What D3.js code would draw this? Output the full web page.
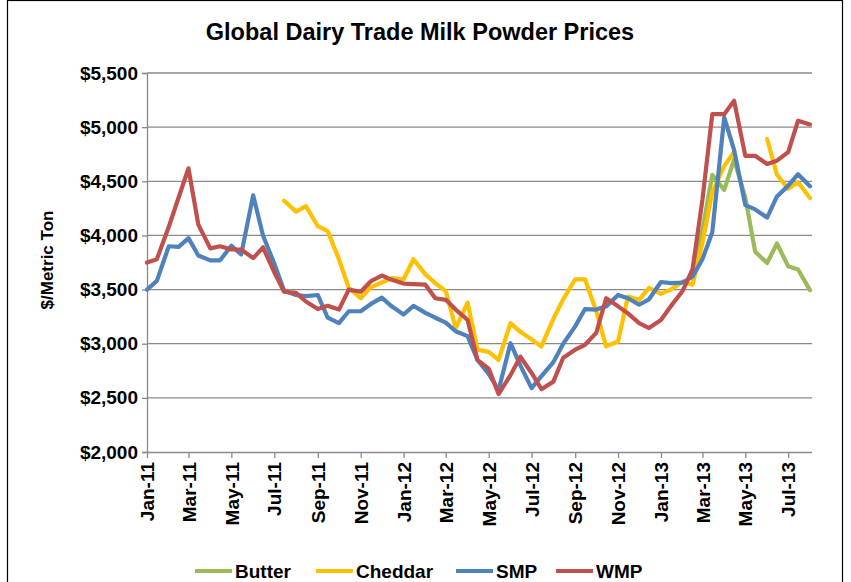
<!DOCTYPE html>
<html><head><meta charset="utf-8">
<script src="https://cdn.jsdelivr.net/npm/d3@7"></script>
<style>
body{margin:0;background:#fff}
svg{display:block}
text{font-family:"Liberation Sans",Arial,sans-serif;font-weight:bold;fill:#000}
</style>
</head><body>
<svg id="c" width="851" height="582"></svg>
<script>
// ---- data ----
const periods = [
"2011-01-01","2011-01-15","2011-02-01","2011-02-15","2011-03-01","2011-03-15","2011-04-01","2011-04-15",
"2011-05-01","2011-05-15","2011-06-01","2011-06-15","2011-07-01","2011-07-15","2011-08-01","2011-08-15",
"2011-09-01","2011-09-15","2011-10-01","2011-10-15","2011-11-01","2011-11-15","2011-12-01","2011-12-15",
"2012-01-01","2012-01-15","2012-02-01","2012-02-15","2012-03-01","2012-03-15","2012-04-01","2012-04-15",
"2012-05-01","2012-05-15","2012-06-01","2012-06-15","2012-07-01","2012-07-15","2012-08-01","2012-08-15",
"2012-09-01","2012-09-15","2012-10-01","2012-10-15","2012-11-01","2012-11-15","2012-12-01","2012-12-15",
"2013-01-01","2013-01-15","2013-02-01","2013-02-15","2013-03-01","2013-03-15","2013-04-01","2013-04-15",
"2013-05-01","2013-05-15","2013-06-01","2013-06-15","2013-07-01","2013-07-15","2013-08-01"];

const butter = [
null,null,null,null,null,null,null,null,null,null,null,null,null,null,null,null,
null,null,null,null,null,null,null,null,null,null,null,null,null,null,null,null,
null,null,null,null,null,null,null,null,null,null,null,null,null,null,null,null,
null,null,null,3600,4050,4560,4420,4700,4350,3850,3745,3925,3715,3685,3495];

const cheddar = [
null,null,null,null,null,null,null,null,null,null,null,null,null,4320,4220,4270,
4085,4040,3780,3515,3420,3520,3565,3605,3595,3780,3640,3560,3485,3145,3380,2945,
2925,2850,3190,3110,3040,2975,3230,3410,3595,3595,3300,2975,3020,3435,3405,3515,
3460,3500,3575,3545,3930,4400,4640,4770,null,null,4890,4560,4430,4490,4345];

const smp = [
3500,3580,3900,3895,3975,3815,3770,3770,3905,3825,4370,4000,3740,3490,3450,3440,
3450,3240,3190,3300,3300,3365,3425,3345,3270,3350,3285,3240,3195,3115,3070,2850,
2720,2570,3005,2800,2590,2700,2830,3000,3160,3320,3315,3345,3450,3420,3360,3410,
3570,3560,3565,3620,3780,4030,5090,4790,4280,4240,4165,4360,4460,4565,4455];

const wmp = [
3750,3780,4080,4350,4620,4100,3880,3900,3870,3870,3790,3890,3660,3480,3470,3390,
3320,3350,3315,3500,3480,3575,3630,3590,3555,3550,3545,3420,3405,3315,3220,2850,
2770,2535,2710,2880,2730,2580,2650,2870,2945,2990,3100,3420,3345,3280,3190,3145,
3220,3345,3490,3690,4330,5120,5120,5245,4735,4735,4660,4690,4770,5060,5025];

const seriesNames = ["Butter","Cheddar","SMP","WMP"];
const seriesColors = ["#9BBB59","#FFC000","#4F81BD","#C0504D"];
const tickDates = ["2011-01-01","2011-03-01","2011-05-01","2011-07-01","2011-09-01","2011-11-01",
"2012-01-01","2012-03-01","2012-05-01","2012-07-01","2012-09-01","2012-11-01",
"2013-01-01","2013-03-01","2013-05-01","2013-07-01"];
const tickLabels = ["Jan-11","Mar-11","May-11","Jul-11","Sep-11","Nov-11","Jan-12","Mar-12",
"May-12","Jul-12","Sep-12","Nov-12","Jan-13","Mar-13","May-13","Jul-13"];
const yTicks = [2000,2500,3000,3500,4000,4500,5000,5500];
const title = "Global Dairy Trade Milk Powder Prices";
const yTitle = "$/Metric Ton";

// ---- chart ----
const parse = d3.utcParse("%Y-%m-%d");
const dates = periods.map(parse);
const svg = d3.select("#c");
const L = 147, R = 812, T = 73, B = 452;

svg.append("rect").attr("x",7.5).attr("y",0.5).attr("width",835).attr("height",600)
  .attr("fill","#fff").attr("stroke","#000").attr("stroke-width",1.2);

const x = d3.scaleUtc().domain([parse("2011-01-01"), parse("2013-08-01")]).range([L, 810]);
const y = d3.scaleLinear().domain([2000, 5500]).range([B, T]);

// gridlines
svg.append("g").selectAll("line").data(yTicks.filter(d=>d>2000)).join("line")
  .attr("x1",L).attr("x2",R).attr("y1",d=>y(d)).attr("y2",d=>y(d))
  .attr("stroke","#8a8a8a").attr("stroke-width",1.3);

// y axis
const ya = svg.append("g").attr("transform",`translate(${L},0)`)
  .call(d3.axisLeft(y).tickValues(yTicks).tickFormat(d=>"$"+d3.format(",")(d)).tickSize(5).tickPadding(4));
ya.select(".domain").attr("stroke","#8a8a8a").attr("stroke-width",1.3);
ya.selectAll(".tick line").attr("stroke","#8a8a8a").attr("stroke-width",1.3);
ya.selectAll("text").style("font-size","19px").style("font-family","'Liberation Sans',Arial,sans-serif").style("font-weight","bold");

// x axis
const xa = svg.append("g").attr("transform",`translate(0,${B})`)
  .call(d3.axisBottom(x).tickValues(tickDates.map(parse)).tickFormat((d,i)=>tickLabels[i]).tickSize(6).tickSizeOuter(0));
xa.select(".domain").attr("stroke","#8a8a8a").attr("stroke-width",1.3).attr("d",`M${L},0.5H${R}`);
xa.selectAll(".tick line").attr("stroke","#8a8a8a").attr("stroke-width",1.3);
xa.selectAll("text")
  .attr("transform","rotate(-90)").attr("x",-10).attr("y",0).attr("dy","0.35em")
  .style("text-anchor","end").style("font-size","19px")
  .style("font-family","'Liberation Sans',Arial,sans-serif").style("font-weight","bold");

// lines
const seriesData = [butter, cheddar, smp, wmp];
const line = d3.line().defined(d=>d.v!=null).x(d=>x(d.t)).y(d=>y(d.v));
seriesData.forEach((vals,k)=>{
  const pts = vals.map((v,i)=>({t:dates[i], v}));
  svg.append("path").datum(pts).attr("d",line)
    .attr("fill","none").attr("stroke",seriesColors[k]).attr("stroke-width",4.2)
    .attr("stroke-linejoin","round").attr("stroke-linecap","round");
});

// title
svg.append("text").attr("x",420).attr("y",40).attr("text-anchor","middle")
  .style("font-size","23.5px").text(title);

// y title
svg.append("text").attr("transform","translate(53,260) rotate(-90)").attr("text-anchor","middle")
  .style("font-size","17px").text(yTitle);

// legend
const legX = [195, 316, 456, 556];
const lg = svg.append("g");
seriesNames.forEach((n,k)=>{
  lg.append("line").attr("x1",legX[k]).attr("x2",legX[k]+37).attr("y1",571).attr("y2",571)
    .attr("stroke",seriesColors[k]).attr("stroke-width",4);
  lg.append("text").attr("x",legX[k]+40).attr("y",578).style("font-size","19px").text(n);
});
</script>
</body></html>
